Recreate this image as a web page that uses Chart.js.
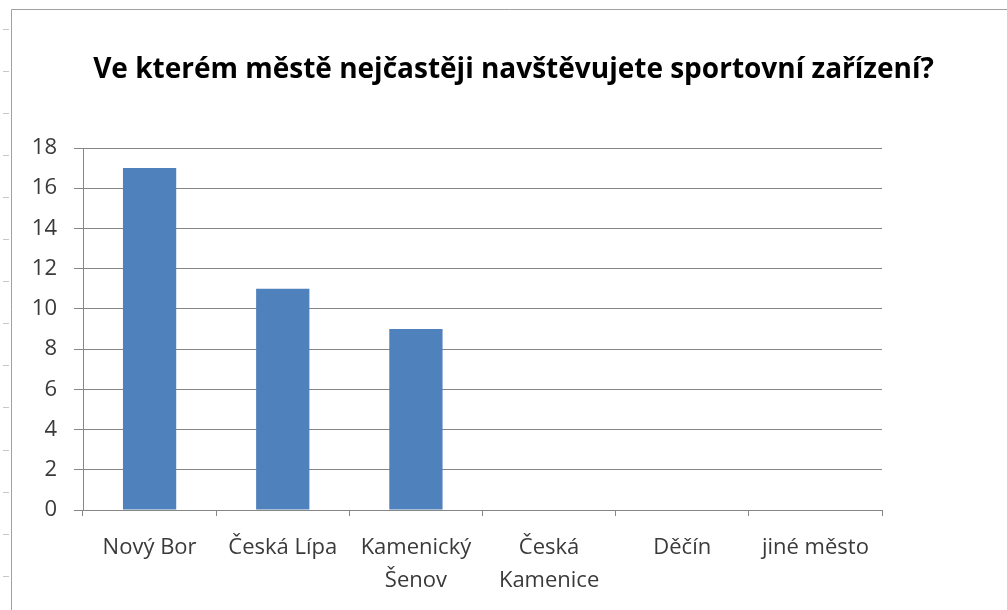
<!DOCTYPE html>
<html>
<head>
<meta charset="utf-8">
<script src="https://cdn.jsdelivr.net/npm/chart.js@4.4.0/dist/chart.umd.min.js"></script>
<style>
  html, body { margin: 0; padding: 0; background: #fff; }
  #wrap { width: 1007px; height: 610px; }
</style>
</head>
<body>
<div id="wrap"><canvas id="barChart" width="1007" height="610"></canvas></div>
<script>
var chartTitle = "Ve kterém městě nejčastěji navštěvujete sportovní zařízení?";
var cities = [
  "Nový Bor",
  "Česká Lípa",
  ["Kamenický", "Šenov"],
  ["Česká", "Kamenice"],
  "Děčín",
  "jiné město"
];
var answers = [17, 11, 9, 0, 0, 0];
var yTicks = [0, 2, 4, 6, 8, 10, 12, 14, 16, 18];

var gridGrey = "#868686";
var textGrey = "#3a3a3a";

// frame of the sheet object + row marks at the left edge,
// and the title centred over the whole object, not just the plot
var sheetFrame = {
  id: "sheetFrame",
  afterLayout: function (chart) {
    if (chart.titleBlock) {
      chart.titleBlock.left = 20;
      chart.titleBlock.right = chart.width;
    }
  },
  beforeDraw: function (chart) {
    var ctx = chart.ctx;
    ctx.save();
    ctx.fillStyle = "#fff";
    ctx.fillRect(0, 0, chart.width, chart.height);
    ctx.strokeStyle = "#a0a0a0";
    ctx.lineWidth = 1;
    ctx.beginPath();
    ctx.moveTo(11.5, 610);
    ctx.lineTo(11.5, 9.5);
    ctx.lineTo(1007, 9.5);
    ctx.stroke();
    ctx.strokeStyle = "#c8c8c8";
    ctx.beginPath();
    for (var y = 28.5; y < 610; y += 42.1) {
      var yy = Math.round(y) + 0.5;
      ctx.moveTo(3, yy);
      ctx.lineTo(9, yy);
    }
    ctx.stroke();
    ctx.restore();
  }
};

var barChart = document.getElementById("barChart");
if (barChart) {
  new Chart(barChart, {
    type: "bar",
    data: {
      labels: cities,
      datasets: [
        {
          label: "Počet",
          backgroundColor: "#4f81bd",
          data: answers,
          barPercentage: 0.4,
          categoryPercentage: 1
        }
      ]
    },
    plugins: [sheetFrame],
    options: {
      responsive: false,
      animation: false,
      layout: {
        padding: { left: 20, right: 125, top: 10, bottom: 0 }
      },
      plugins: {
        legend: { display: false },
        tooltip: { enabled: false },
        title: {
          display: true,
          text: chartTitle,
          color: "#000",
          font: { family: "'Open Sans'", size: 28, weight: "bold", lineHeight: 1.2 },
          padding: { top: 43.2, bottom: 61.2 }
        }
      },
      scales: {
        x: {
          border: { color: gridGrey, width: 1 },
          grid: {
            offset: true,
            drawOnChartArea: false,
            drawTicks: true,
            tickLength: 6,
            color: gridGrey
          },
          ticks: {
            color: textGrey,
            maxRotation: 0,
            autoSkip: false,
            padding: 15,
            font: { family: "'Open Sans'", size: 22, lineHeight: 1.5 }
          },
          afterFit: function (scale) {
            scale.height = 100;
          }
        },
        y: {
          min: 0,
          max: 18,
          afterBuildTicks: function (scale) {
            scale.ticks = yTicks.map(function (v) { return { value: v }; });
          },
          border: { color: gridGrey, width: 1 },
          grid: {
            color: gridGrey,
            tickLength: 9
          },
          ticks: {
            color: textGrey,
            padding: 17,
            font: { family: "'Open Sans'", size: 22 }
          },
          afterFit: function (scale) {
            scale.width = 63;
          }
        }
      }
    }
  });
}
</script>
</body>
</html>
